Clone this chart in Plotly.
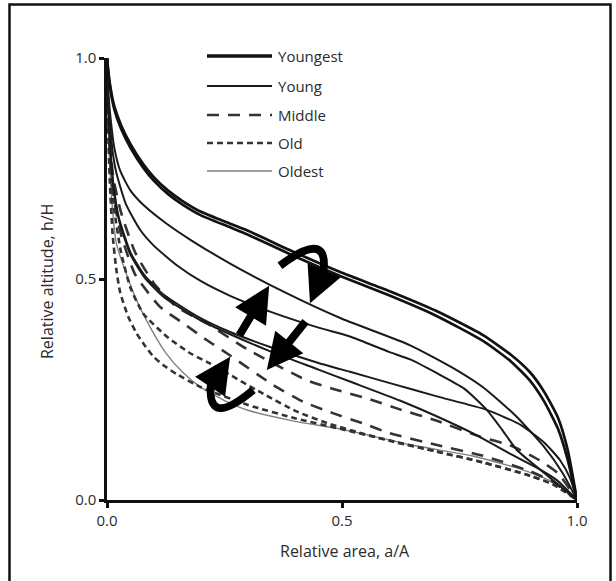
import plotly.graph_objects as go

# ---------------- data (relative area a/A, relative altitude h/H) ----------------
youngest1_x = [0, .005, .015, .03, .05, .077, .1, .13, .16, .2, .262, .3, .4, .5, .6, .7, .8, .86, .9, .93, .96, .98, 1]
youngest1_h = [1, .95, .893, .848, .805, .76, .73, .70, .677, .652, .625, .609, .56, .514, .473, .428, .373, .328, .289, .245, .185, .114, 0]
youngest2_x = [0, .005, .015, .03, .05, .077, .1, .13, .16, .2, .262, .3, .4, .5, .6, .7, .8, .86, .9, .93, .96, .98, 1]
youngest2_h = [1, .945, .886, .84, .797, .752, .722, .692, .669, .644, .617, .6, .551, .505, .463, .417, .36, .313, .27, .223, .16, .092, 0]

young1_x = [0, .003, .008, .015, .028, .05, .08, .127, .18, .262, .382, .5, .645, .734, .8, .87, .93, .97, 1]
young1_h = [1, .92, .86, .80, .745, .70, .665, .625, .587, .535, .468, .41, .35, .30, .255, .19, .12, .06, 0]
young2_x = [0, .003, .008, .013, .02, .04, .07, .1, .15, .2, .262, .35, .45, .517, .6, .645, .7, .76, .808, .84, .872, .92, .96, 1]
young2_h = [1, .9, .83, .78, .74, .67, .612, .575, .53, .495, .462, .425, .39, .37, .335, .318, .288, .252, .204, .16, .113, .07, .035, 0]
young3_x = [0, .003, .007, .013, .025, .05, .08, .12, .198, .262, .35, .45, .517, .6, .7, .808, .88, .93, .964, .985, 1]
young3_h = [1, .89, .80, .72, .64, .56, .508, .465, .412, .38, .345, .31, .29, .265, .235, .204, .17, .13, .09, .05, 0]
young4_x = [0, .003, .007, .013, .025, .05, .08, .12, .198, .262, .35, .45, .517, .623, .7, .78, .857, .92, .957, 1]
young4_h = [1, .885, .795, .715, .635, .555, .503, .46, .407, .375, .335, .295, .268, .225, .19, .15, .105, .07, .045, 0]

middle1_x = [0, .003, .008, .015, .03, .06, .1, .148, .212, .3, .425, .489, .553, .623, .7, .794, .857, .92, .96, 1]
middle1_h = [1, .87, .78, .72, .65, .56, .49, .437, .40, .34, .271, .249, .23, .205, .18, .143, .124, .09, .06, 0]
middle2_x = [0, .003, .008, .015, .03, .06, .113, .162, .212, .255, .354, .418, .482, .545, .602, .7, .8, .9, .95, 1]
middle2_h = [1, .85, .75, .68, .6, .51, .437, .40, .362, .332, .26, .222, .196, .173, .151, .125, .1, .065, .04, 0]

old1_x = [0, .002, .006, .012, .02, .028, .045, .063, .08, .099, .12, .148, .2, .3, .4, .5, .6, .7, .8, .9, .95, 1]
old1_h = [1, .85, .72, .6, .52, .47, .415, .377, .35, .324, .305, .285, .255, .215, .185, .16, .135, .11, .085, .055, .035, 0]
old2_x = [0, .003, .008, .015, .03, .05, .077, .127, .177, .219, .333, .404, .474, .545, .616, .7, .8, .9, .95, 1]
old2_h = [1, .86, .75, .66, .56, .48, .422, .37, .332, .309, .24, .2, .172, .15, .13, .11, .085, .055, .035, 0]

oldest_x = [0, .002, .005, .01, .02, .035, .063, .095, .127, .16, .198, .25, .3, .4, .5, .645, .776, .88, .95, 1]
oldest_h = [1, .88, .78, .68, .58, .53, .452, .385, .33, .29, .256, .225, .203, .178, .16, .125, .1, .07, .04, 0]

legend_labels = ["Youngest", "Young", "Middle", "Old", "Oldest"]
tick_vals = [0, 0.5, 1.0]
tick_text = ["0.0", "0.5", "1.0"]

# ---------------- styles ----------------
BLACK = "#111111"
GRAY = "#808080"
style = {
    "Youngest": dict(width=2.7, dash="solid", color=BLACK),
    "Young": dict(width=2.0, dash="solid", color="#1a1a1a"),
    "Middle": dict(width=2.6, dash="12px,9px", color="#333333"),
    "Old": dict(width=2.6, dash="6px,4px", color="#333333"),
    "Oldest": dict(width=1.4, dash="solid", color=GRAY),
}
legend_width = {"Youngest": 3.6, "Young": 2.0, "Middle": 2.6, "Old": 2.6, "Oldest": 1.4}

series = [
    ("Oldest", oldest_x, oldest_h),
    ("Old", old1_x, old1_h),
    ("Old", old2_x, old2_h),
    ("Middle", middle1_x, middle1_h),
    ("Middle", middle2_x, middle2_h),
    ("Young", young4_x, young4_h),
    ("Young", young3_x, young3_h),
    ("Young", young2_x, young2_h),
    ("Young", young1_x, young1_h),
    ("Youngest", youngest2_x, youngest2_h),
    ("Youngest", youngest1_x, youngest1_h),
]

fig = go.Figure()
for name, xs, hs in series:
    fig.add_trace(go.Scatter(
        x=xs, y=hs, mode="lines", name=name, showlegend=False,
        line=dict(shape="spline", smoothing=0.55, **style[name]),
        hoverinfo="skip",
    ))

FONT = "Open Sans"
TXT = "#2b2b2b"

W, H = 616, 581
# plot area in page pixels: x 107..577, y 58..500 (body margin removed by post_script)
L, T = 107, 58
R, B = W - 577, H - 500
PW, PH = W - L - R, H - T - B

def px2paper(px, py):
    return (px - L) / PW, (H - B - py) / PH

shapes = []
annotations = []

# outer frame
fx0, fy1 = px2paper(9.5, 4.5)
fx1, fy0 = px2paper(610.5, 600)
shapes.append(dict(type="rect", xref="paper", yref="paper", x0=fx0, x1=fx1, y0=fy0, y1=fy1,
                   line=dict(color="#111111", width=2.5), layer="above"))

# custom legend
legend_rows_py = [56, 86, 115, 143, 171]
for lab, py in zip(legend_labels, legend_rows_py):
    x0, y = px2paper(207, py)
    x1, _ = px2paper(272, py)
    st = style[lab]
    shapes.append(dict(type="line", xref="paper", yref="paper", x0=x0, x1=x1, y0=y, y1=y,
                       line=dict(color=st["color"], width=legend_width[lab], dash=st["dash"])))
    tx, _ = px2paper(276, py)
    annotations.append(dict(xref="paper", yref="paper", x=tx, y=y, text=lab, showarrow=False,
                            xanchor="left", yanchor="middle",
                            font=dict(family=FONT, size=15, color=TXT)))

# axis titles
ax_x, ax_y = px2paper(345, 551)
annotations.append(dict(xref="paper", yref="paper", x=ax_x, y=ax_y, text="Relative area, a/A",
                        showarrow=False, xanchor="center", yanchor="middle",
                        font=dict(family=FONT, size=16, color=TXT)))
ay_x, ay_y = px2paper(47, 282)
annotations.append(dict(xref="paper", yref="paper", x=ay_x, y=ay_y, text="Relative altitude, h/H",
                        showarrow=False, xanchor="center", yanchor="middle", textangle=-90,
                        font=dict(family=FONT, size=16, color=TXT)))

# decorative cycle arrows (data coordinates)
ARW = 8
annotations.append(dict(x=0.345, y=0.485, ax=0.28, ay=0.37, xref="x", yref="y", axref="x", ayref="y",
                        showarrow=True, arrowhead=2, arrowsize=0.9, arrowwidth=ARW, arrowcolor="#000", text=""))
annotations.append(dict(x=0.34, y=0.294, ax=0.425, ay=0.407, xref="x", yref="y", axref="x", ayref="y",
                        showarrow=True, arrowhead=2, arrowsize=0.9, arrowwidth=ARW, arrowcolor="#000", text=""))
shapes.append(dict(type="path", xref="x", yref="y", path="M 0.368,0.53 Q 0.48,0.62 0.458,0.50",
                   line=dict(color="#000", width=ARW), layer="above"))
annotations.append(dict(x=0.432, y=0.445, ax=0.458, ay=0.51, xref="x", yref="y", axref="x", ayref="y",
                        showarrow=True, arrowhead=2, arrowsize=0.9, arrowwidth=ARW, arrowcolor="#000", text=""))
shapes.append(dict(type="path", xref="x", yref="y", path="M 0.311,0.249 Q 0.2,0.15 0.225,0.29",
                   line=dict(color="#000", width=ARW), layer="above"))
annotations.append(dict(x=0.262, y=0.324, ax=0.228, ay=0.27, xref="x", yref="y", axref="x", ayref="y",
                        showarrow=True, arrowhead=2, arrowsize=0.9, arrowwidth=ARW, arrowcolor="#000", text=""))

axis_common = dict(
    range=[0, 1], tickvals=tick_vals, ticktext=tick_text, showgrid=False, zeroline=False,
    showline=True, linecolor="#111111", linewidth=2.5, ticks="outside", ticklen=5, tickwidth=2.5,
    tickcolor="#111111", tickfont=dict(family=FONT, size=15, color=TXT), fixedrange=True,
)

fig.update_layout(
    width=W, height=H,
    margin=dict(l=L, r=R, t=T, b=B),
    paper_bgcolor="white", plot_bgcolor="white",
    xaxis=dict(**axis_common),
    yaxis=dict(**axis_common),
    shapes=shapes, annotations=annotations,
    showlegend=False,
)

fig.write_html(
    "out.html",
    config={"displayModeBar": False},
    post_script="document.body.style.margin='0';document.body.style.overflow='hidden';",
)
